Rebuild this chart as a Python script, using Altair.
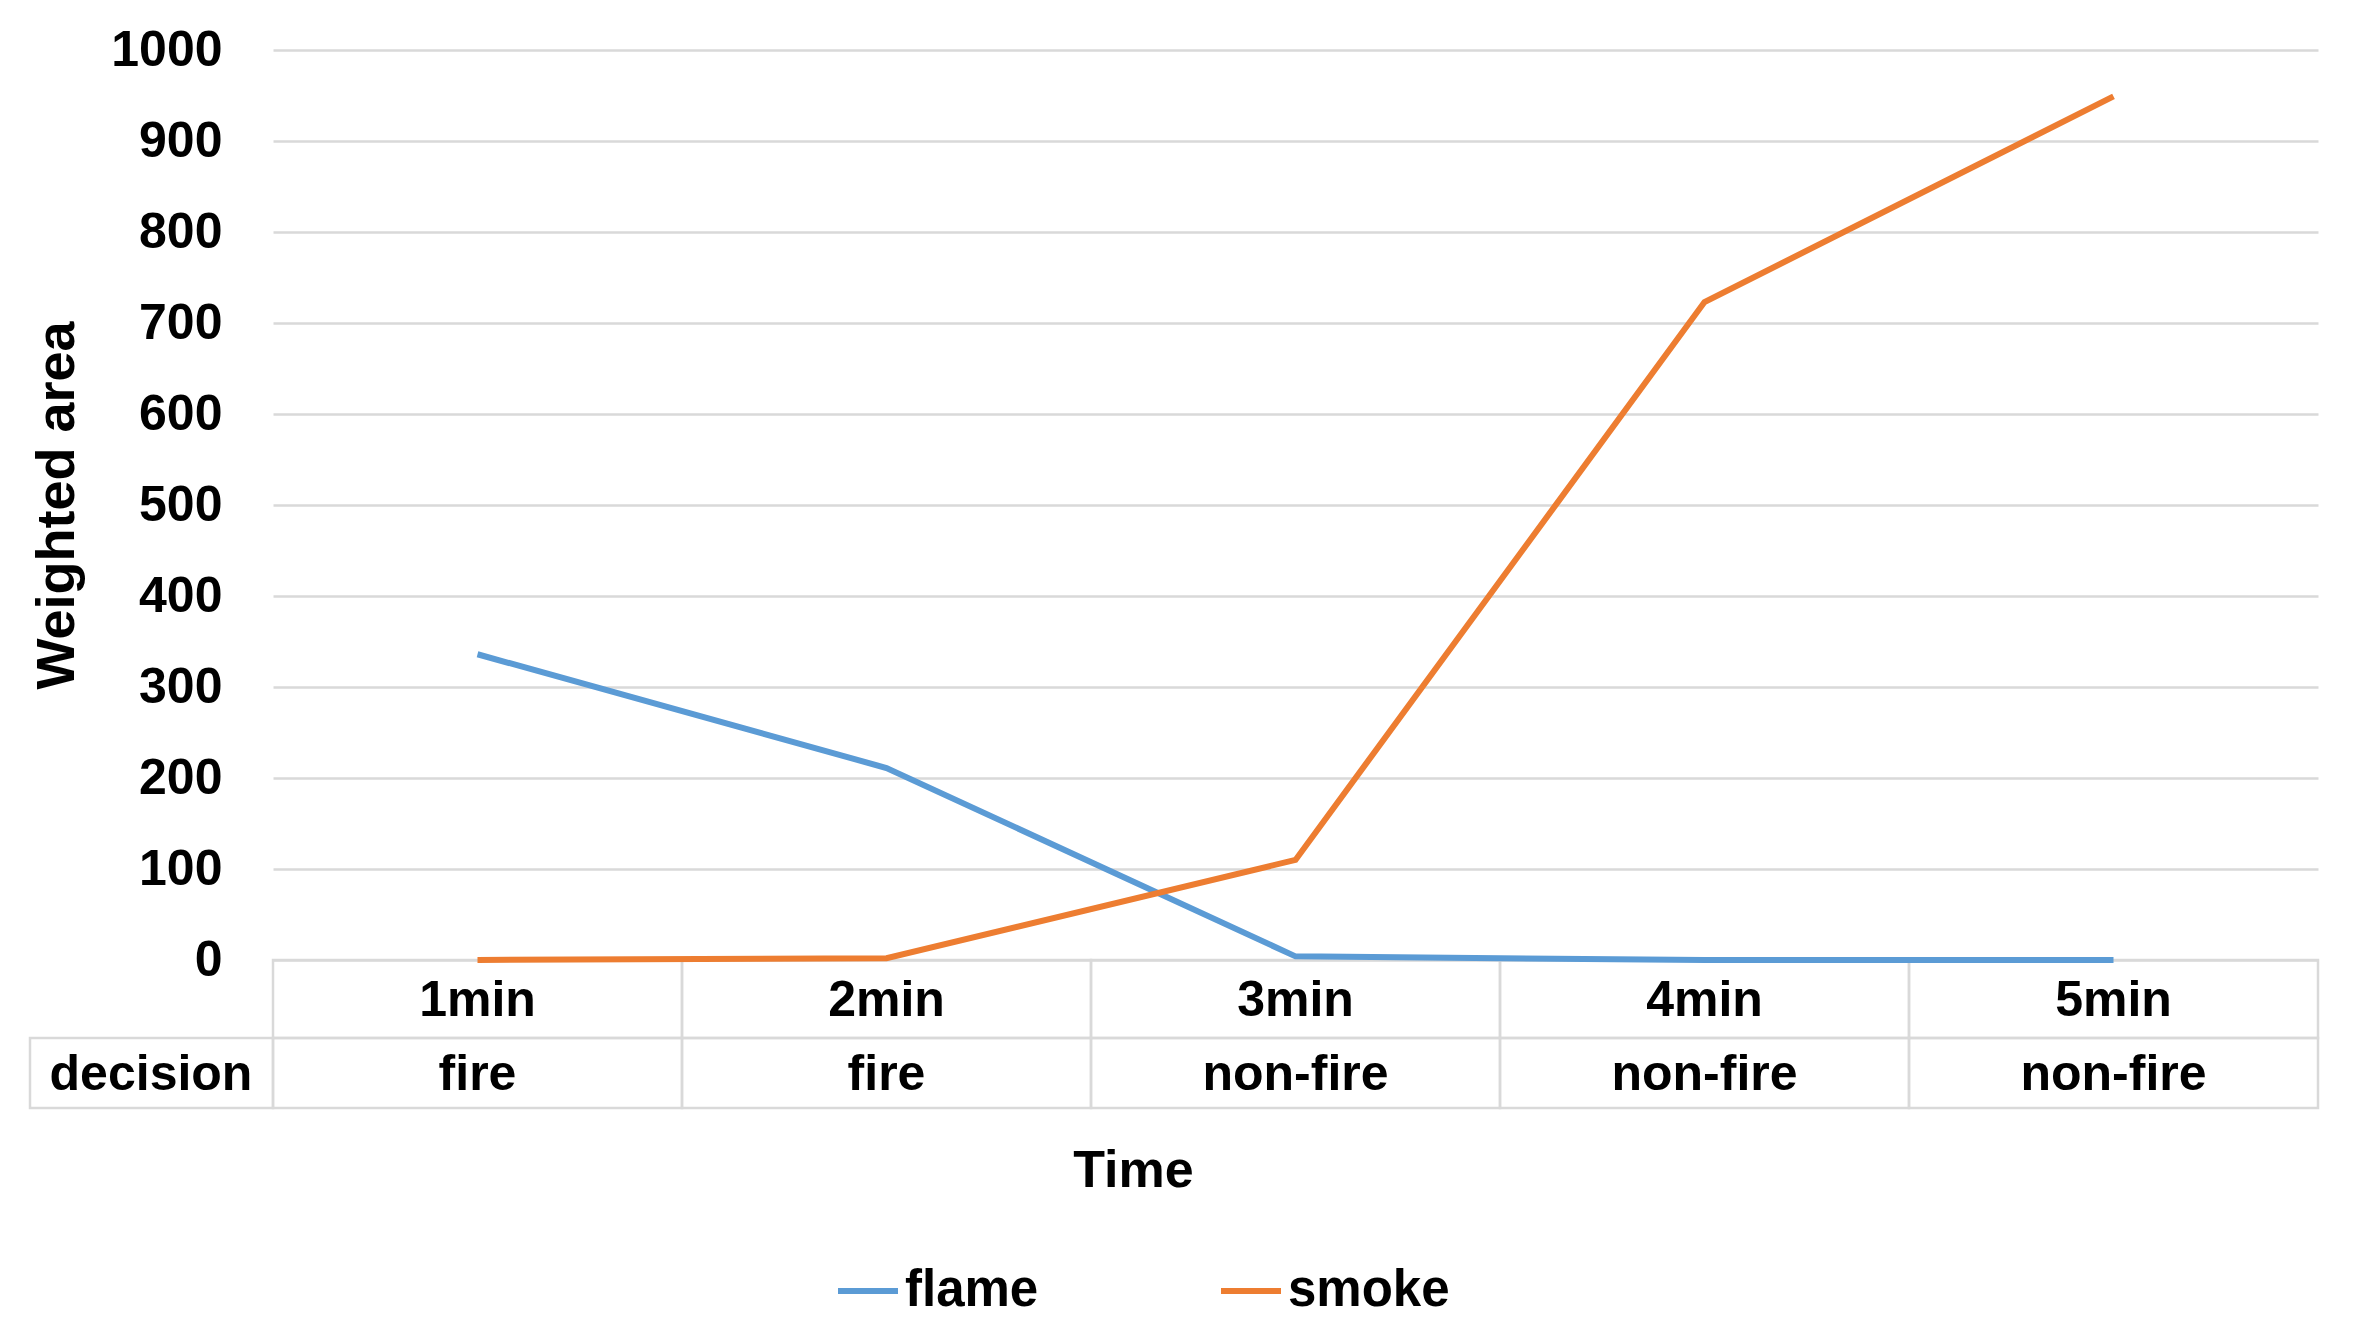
import altair as alt
import pandas as pd

# ---- data ----
times = ["1min", "2min", "3min", "4min", "5min"]
decisions = ["fire", "fire", "non-fire", "non-fire", "non-fire"]
flame = [336, 211, 4, 0, 0]
smoke = [0, 2, 110, 723, 949]
y_ticks = [0, 100, 200, 300, 400, 500, 600, 700, 800, 900, 1000]
series_names = ["flame", "smoke"]
series_colors = ["#5B9BD5", "#ED7D31"]

long_df = pd.DataFrame(
    [{"time": t, "series": "flame", "value": v} for t, v in zip(times, flame)]
    + [{"time": t, "series": "smoke", "value": v} for t, v in zip(times, smoke)]
)
table_df = pd.DataFrame({"time": times, "decision": decisions})
one_row = pd.DataFrame({"label": ["decision"]})

W, H = 2045, 910
ROW1_TOP, ROW1_BOT, ROW2_BOT = H, H + 78, H + 148
GRID = "#D9D9D9"
SANS = "Liberation Sans, Arial, sans-serif"
TBL_FS = 50

x_scale = alt.Scale(domain=times, type="band", paddingInner=0, paddingOuter=0)
x_axis = alt.Axis(
    title="Time", domain=False, ticks=False, labels=False, grid=False,
    titleFont=SANS, titleFontSize=52, titleFontWeight="bold", titleColor="black",
    titleX=860, titleY=210, titleBaseline="middle", titleAlign="center",
)

lines = alt.Chart(long_df).mark_line(strokeWidth=6).encode(
    x=alt.X("time:N", scale=x_scale, axis=x_axis, bandPosition=0.5, sort=times),
    y=alt.Y(
        "value:Q",
        scale=alt.Scale(domain=[0, 1000], nice=False),
        axis=alt.Axis(
            values=y_ticks, format="d", title="Weighted area", domain=False, ticks=False,
            labelFont=SANS, labelFontSize=50, labelFontWeight="bold", labelColor="black",
            labelPadding=51, gridColor=GRID, gridWidth=2.5,
            titleFont=SANS, titleFontSize=54, titleFontWeight="bold", titleColor="black",
            titleX=-216, titleY=455, titleBaseline="middle", titleAlign="center", titleAngle=-90,
        ),
    ),
    color=alt.Color(
        "series:N",
        scale=alt.Scale(domain=series_names, range=series_colors),
        legend=alt.Legend(
            title=None, orient="none", direction="horizontal", legendX=562, legendY=1208,
            symbolType="stroke", symbolSize=3600, symbolStrokeWidth=6,
            labelFont=SANS, labelFontSize=51, labelFontWeight="bold", labelColor="black",
            labelOffset=4, columnPadding=170, padding=0, labelLimit=400,
        ),
    ),
)

row1_cells = alt.Chart(table_df).mark_rect(fillOpacity=0, stroke=GRID, strokeWidth=2.5).encode(
    x=alt.X("time:N", scale=x_scale, axis=x_axis, sort=times),
    y=alt.value(ROW1_TOP), y2=alt.value(ROW1_BOT),
)
row2_cells = alt.Chart(table_df).mark_rect(fillOpacity=0, stroke=GRID, strokeWidth=2.5).encode(
    x=alt.X("time:N", scale=x_scale, axis=x_axis, sort=times),
    y=alt.value(ROW1_BOT), y2=alt.value(ROW2_BOT),
)
label_cell = alt.Chart(one_row).mark_rect(fillOpacity=0, stroke=GRID, strokeWidth=2.5).encode(
    x=alt.value(-243), x2=alt.value(0), y=alt.value(ROW1_BOT), y2=alt.value(ROW2_BOT),
)

time_text = alt.Chart(table_df).mark_text(
    font=SANS, fontSize=TBL_FS, fontWeight="bold", color="black", baseline="middle"
).encode(
    x=alt.X("time:N", scale=x_scale, axis=x_axis, bandPosition=0.5, sort=times),
    y=alt.value((ROW1_TOP + ROW1_BOT) / 2 + 2),
    text="time:N",
)
decision_text = alt.Chart(table_df).mark_text(
    font=SANS, fontSize=TBL_FS, fontWeight="bold", color="black", baseline="middle"
).encode(
    x=alt.X("time:N", scale=x_scale, axis=x_axis, bandPosition=0.5, sort=times),
    y=alt.value((ROW1_BOT + ROW2_BOT) / 2 + 2),
    text="decision:N",
)
label_text = alt.Chart(one_row).mark_text(
    font=SANS, fontSize=TBL_FS, fontWeight="bold", color="black", baseline="middle"
).encode(
    x=alt.value(-122), y=alt.value((ROW1_BOT + ROW2_BOT) / 2 + 2), text="label:N",
)

chart = alt.layer(
    row1_cells, row2_cells, label_cell, lines, time_text, decision_text, label_text
).properties(
    width=W, height=H,
    background="white",
    autosize=alt.AutoSizeParams(type="none"),
    padding={"left": 265, "top": 42, "right": 27, "bottom": 368},
).configure_view(stroke="transparent", strokeWidth=0)

chart.save("out.html", embed_options={"renderer": "svg", "actions": False})
